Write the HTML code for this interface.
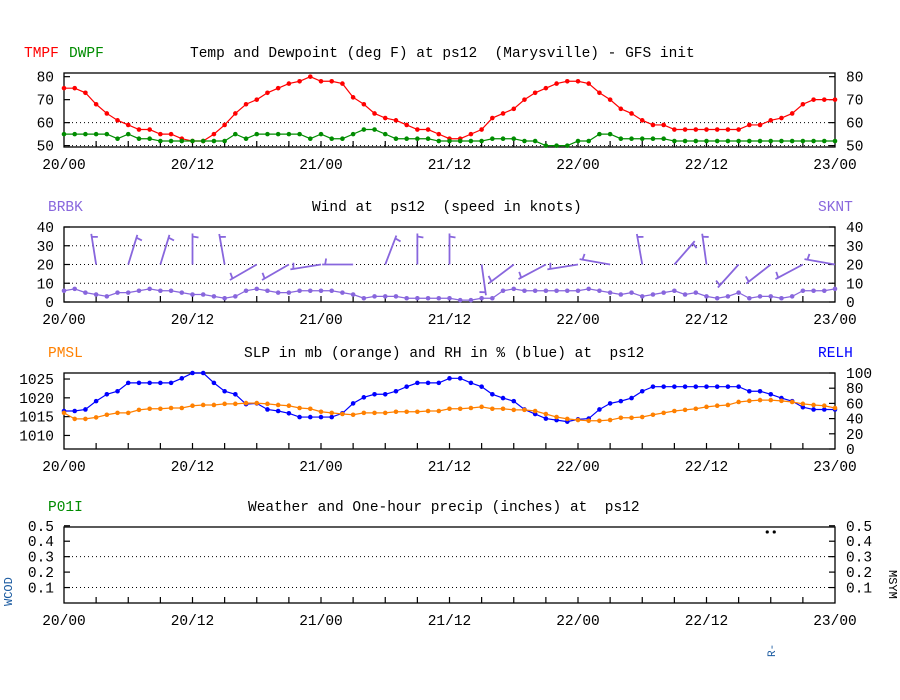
<!DOCTYPE html>
<html><head><meta charset="utf-8"><style>
html,body{margin:0;padding:0;background:#fff;}
svg{display:block;font-family:"Liberation Mono",monospace;font-size:14.5px;}
svg text{white-space:pre;}
</style></head><body>
<svg id="chart" width="900" height="700" viewBox="0 0 900 700" xml:space="preserve"></svg>
<script>
const timeLabels=["20/00","20/12","21/00","21/12","22/00","22/12","23/00"];
const tmpf=[75,75,73,68,64,61,59,57,57,55,55,53,52,52,55,59,64,68,70,73,75,77,78,80,78,78,77,71,68,64,62,61,59,57,57,55,53,53,55,57,62,64,66,70,73,75,77,78,78,77,73,70,66,64,61,59,59,57,57,57,57,57,57,57,59,59,61,62,64,68,70,70,70];
const dwpf=[55,55,55,55,55,53,55,53,53,52,52,52,52,52,52,52,55,53,55,55,55,55,55,53,55,53,53,55,57,57,55,53,53,53,53,52,52,52,52,52,53,53,53,52,52,50,50,50,52,52,55,55,53,53,53,53,53,52,52,52,52,52,52,52,52,52,52,52,52,52,52,52,52];
const sknt=[6,7,5,4,3,5,5,6,7,6,6,5,4,4,3,2,3,6,7,6,5,5,6,6,6,6,5,4,2,3,3,3,2,2,2,2,2,1,1,2,2,6,7,6,6,6,6,6,6,7,6,5,4,5,3,4,5,6,4,5,3,2,3,5,2,3,3,2,3,6,6,6,7];
const barbHours=[3,6,9,12,15,18,21,24,27,30,33,36,39,42,45,48,51,54,57,60,63,66,69,72];
const barbDir=[351,17,17,360,350,240,240,261,270,21,360,360,172,233,242,261,280,350,41,352,222,232,242,280];
const pmsl=[1016.0,1014.4,1014.4,1014.8,1015.5,1016.0,1016.0,1016.8,1017.1,1017.1,1017.3,1017.3,1017.9,1018.1,1018.1,1018.4,1018.4,1018.6,1018.6,1018.4,1018.1,1017.9,1017.3,1017.1,1016.3,1016.0,1015.7,1015.5,1016.0,1016.0,1016.0,1016.3,1016.3,1016.3,1016.5,1016.5,1017.1,1017.1,1017.3,1017.6,1017.1,1017.1,1016.8,1016.8,1016.5,1015.7,1014.9,1014.4,1014.1,1013.9,1013.9,1014.1,1014.7,1014.7,1014.9,1015.5,1016.0,1016.5,1016.8,1017.1,1017.6,1017.9,1018.1,1018.9,1019.2,1019.4,1019.4,1019.2,1018.9,1018.4,1018.1,1017.9,1017.3];
const relh=[50,50,52,63,72,76,87,87,87,87,87,93,100,100,87,76,72,59,60,52,50,47,42,42,42,42,47,60,68,72,72,76,82,87,87,87,93,93,87,82,72,67,63,52,46,40,38,36,39,40,52,60,63,67,76,82,82,82,82,82,82,82,82,82,76,76,72,67,63,55,52,52,52];
const precipWx=[{h:66,v:0.46,sym:"**",code:"R-"}];

const NS="http://www.w3.org/2000/svg";
const svg=document.getElementById('chart');
const X0=64,X1=835;
function X(h){return X0+h*(X1-X0)/72;}
function mk(tag,attrs,parent,text){const e=document.createElementNS(NS,tag);for(const k in attrs)e.setAttribute(k,attrs[k]);if(text!==undefined)e.textContent=text;(parent||svg).appendChild(e);return e;}

function panel(name,top,bot,yLo,yHi,lTicks,lLabels,rTicks,rLabels,rLo,rHi,grid){
  const g=mk('g',{},svg);
  
  
  const Y=v=>bot-(v-yLo)*(bot-top)/(yHi-yLo);
  const YR=v=>bot-(v-rLo)*(bot-top)/(rHi-rLo);
  grid.forEach(v=>{const l=mk('line',{x1:X0,x2:X1,y1:Y(v),y2:Y(v),stroke:'#000','stroke-width':1,'stroke-dasharray':'1,3'},g);
    
    });
  const fr=mk('rect',{x:X0,y:top,width:X1-X0,height:bot-top,fill:'none',stroke:'#000','stroke-width':1.3},g);
  
  
  for(let h=3;h<72;h+=3){mk('line',{x1:X(h),x2:X(h),y1:bot,y2:bot-6,stroke:'#000','stroke-width':1.2},g);}
  timeLabels.forEach((t,i)=>{const e=mk('text',{x:X(i*12),y:bot+22,'text-anchor':'middle',fill:'#000'},g,t);
    
    });
  lTicks.forEach((v,i)=>{mk('line',{x1:X0,x2:X0+6,y1:Y(v),y2:Y(v),stroke:'#000','stroke-width':1.2},g);
    if(lLabels[i]!==''){const e=mk('text',{x:54,y:Y(v)+5,'text-anchor':'end',fill:'#000'},g,lLabels[i]);
    
    }});
  rTicks.forEach((v,i)=>{mk('line',{x1:X1-6,x2:X1,y1:YR(v),y2:YR(v),stroke:'#000','stroke-width':1.2},g);
    const e=mk('text',{x:846,y:YR(v)+5,fill:'#000'},g,rLabels[i]);
    
    });
  return {g,Y,YR};
}
function series(p,vals,yf,color,name){
  const pts=vals.map((v,i)=>X(i)+','+yf(v)).join(' ');
  const l=mk('polyline',{points:pts,fill:'none',stroke:color,'stroke-width':1.2},p.g);
  
  
  vals.forEach((v,i)=>{const c=mk('circle',{cx:X(i),cy:yf(v),r:2.3,fill:color},p.g);
    
    });
}
function label(x,y,t,color,name,anchor){const e=mk('text',{x:x,y:y,fill:color,'text-anchor':anchor||'start'},svg,t);
  
  return e;}

// Panel 1
label(24,57,'TMPF','#ff0000','legend-tmpf');
label(69,57,'DWPF','#008c00','legend-dwpf');
label(190,57,'Temp and Dewpoint (deg F) at ps12  (Marysville) - GFS init','#000','title-temp');
const p1=panel('temp',73,147,49.4,81.6,[80,70,60,50],['80','70','60','50'],[80,70,60,50],['80','70','60','50'],49.4,81.6,[60,50]);
series(p1,tmpf,p1.Y,'#ff0000','tmpf');
series(p1,dwpf,p1.Y,'#008c00','dwpf');

// Panel 2
label(48,211,'BRBK','#8866dd','legend-brbk');
label(818,211,'SKNT','#8866dd','legend-sknt');
label(312,211,'Wind at  ps12  (speed in knots)','#000','title-wind');
const p2=panel('wind',227,302,0,40,[40,30,20,10,0],['40','30','20','10','0'],[40,30,20,10,0],['40','30','20','10','0'],0,40,[30,20,10]);
series(p2,sknt,p2.Y,'#8866dd','sknt');
barbHours.forEach((h,i)=>{
  const a=barbDir[i]*Math.PI/180, L=31;
  const bx=X(h), by=p2.Y(20);
  const dx=Math.sin(a), dy=-Math.cos(a);
  const tx=bx+dx*L, ty=by+dy*L;
  const fx=tx-dx*4 + (-dy)*6, fy=ty-dy*4 + dx*6;
  const b=mk('g',{},p2.g);
  
  
  mk('line',{x1:bx,y1:by,x2:tx,y2:ty,stroke:'#8866dd','stroke-width':1.8},b);
  mk('line',{x1:tx-dx*3,y1:ty-dy*3,x2:fx,y2:fy,stroke:'#8866dd','stroke-width':1.8},b);
});

// Panel 3
label(48,357,'PMSL','#ff8000','legend-pmsl');
label(818,357,'RELH','#0000ff','legend-relh');
label(244,357,'SLP in mb (orange) and RH in % (blue) at  ps12','#000','title-slp');
const p3=panel('slp',373,449,1006.4,1026.6,[1025,1020,1015,1010],['1025','1020','1015','1010'],[100,80,60,40,20,0],['100','80','60','40','20','0'],0,100,[]);
series(p3,relh,p3.YR,'#0000ff','relh');
series(p3,pmsl,p3.Y,'#ff8000','pmsl');

// Panel 4
label(48,511,'P01I','#008c00','legend-p01i');
label(248,511,'Weather and One-hour precip (inches) at  ps12','#000','title-precip');
const p4=panel('precip',527,603,0,0.492,[0.5,0.4,0.3,0.2,0.1],['0.5','0.4','0.3','0.2','0.1'],[0.5,0.4,0.3,0.2,0.1],['0.5','0.4','0.3','0.2','0.1'],0,0.492,[0.3,0.1]);
precipWx.forEach(w=>{
  const s=mk('g',{},p4.g);
  
  
  mk('circle',{cx:X(w.h)-3.5,cy:p4.Y(w.v),r:1.6,fill:'#000'},s);
  mk('circle',{cx:X(w.h)+3.5,cy:p4.Y(w.v),r:1.6,fill:'#000'},s);
  const c=mk('text',{x:0,y:0,fill:'#1a5aa0','font-size':'11px',transform:'translate('+(X(w.h)+4)+',657) rotate(-90)'},svg,w.code);
  
  
});
const wc=mk('text',{x:0,y:0,fill:'#1a5aa0','font-size':'12px',transform:'translate(12,606) rotate(-90)'},svg,'WCOD');


const ms=mk('text',{x:0,y:0,fill:'#000','font-size':'12px',transform:'translate(889,570) rotate(90)'},svg,'MSYM');


</script>
</body></html>
